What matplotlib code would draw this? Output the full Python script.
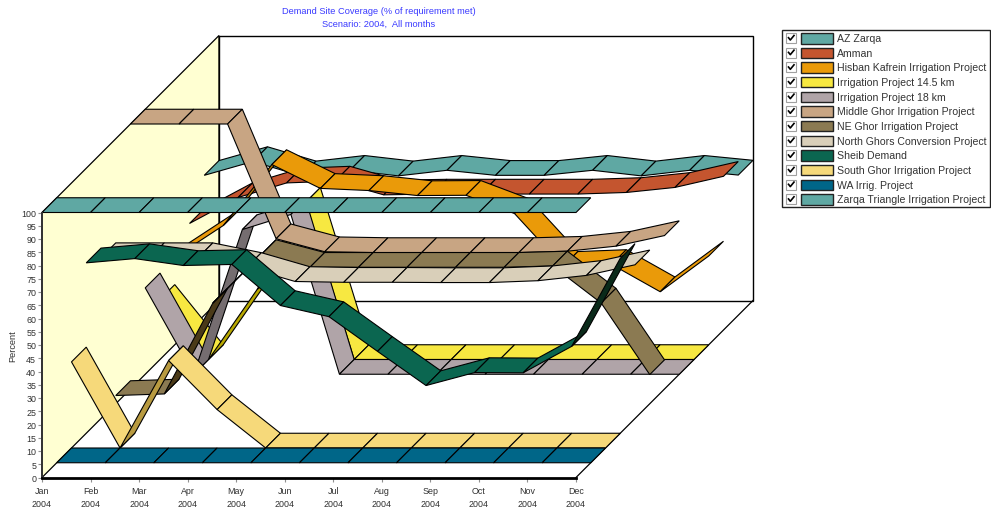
import numpy as np
import matplotlib
matplotlib.use("Agg")
import matplotlib.pyplot as plt
from matplotlib.patches import Polygon, Rectangle

plt.rcParams['font.family'] = ['Liberation Sans', 'DejaVu Sans']

months = ["Jan", "Feb", "Mar", "Apr", "May", "Jun", "Jul", "Aug", "Sep", "Oct", "Nov", "Dec"]
year = "2004"

# series as listed in the legend
names = ["AZ Zarqa", "Amman", "Hisban Kafrein Irrigation Project", "Irrigation Project 14.5 km",
         "Irrigation Project 18 km", "Middle Ghor Irrigation Project", "NE Ghor Irrigation Project",
         "North Ghors Conversion Project", "Sheib Demand", "South Ghor Irrigation Project",
         "WA Irrig. Project", "Zarqa Triangle Irrigation Project"]

az_zarqa = [52.8, 58.0, 52.6, 54.7, 52.6, 54.7, 52.8, 52.8, 54.7, 52.6, 54.7, 52.9]
amman = [40.2, 50.0, 55.5, 56.2, 51.0, 51.3, 51.3, 51.3, 51.3, 51.9, 53.8, 58.0]
hisban = [33.0, 45.0, 68.0, 59.0, 58.2, 56.3, 56.4, 49.5, 29.6, 30.3, 20.0, 33.5]
ip_14_5 = [22.7, 0, 26.4, 59.3, 0, 0, 0, 0, 0, 0, 0, 0]
ip_18 = [32.6, 0, 54.6, 60.3, 0, 0, 0, 0, 0, 0, 0, 0]
middle_ghor = [100, 100, 100, 56.7, 51.8, 51.5, 51.5, 51.5, 51.5, 52.0, 53.9, 57.9]
ne_ghor = [3.1, 3.7, 38.0, 56.3, 51.5, 51.5, 51.5, 51.5, 51.5, 52.0, 38.0, 11.0]
north_ghors = [60.7, 60.7, 60.7, 57.0, 51.7, 51.4, 51.4, 51.3, 51.3, 52.0, 54.0, 58.0]
sheib = [64.3, 65.9, 63.3, 63.7, 48.2, 44.0, 30.9, 18.0, 22.9, 22.8, 32.8, 66.0]
south_ghor = [32.5, 0, 33.0, 14.5, 0, 0, 0, 0, 0, 0, 0, 0]
wa_irrig = [0] * 12
zarqa_triangle = [100] * 12

series = [az_zarqa, amman, hisban, ip_14_5, ip_18, middle_ghor, ne_ghor,
          north_ghors, sheib, south_ghor, wa_irrig, zarqa_triangle]
colors = ["#5fa8a3", "#c4552f", "#ea9a09", "#f7e841", "#b0a4a8", "#c8a583",
          "#8b7a52", "#d9cfb9", "#0b6650", "#f6d97a", "#006688", "#5fa8a3"]
# colour of a ribbon's underside, seen where it climbs steeply
under_colors = ["#3f706d", "#833920", "#b87a06", "#b8a800", "#756d70", "#86705a",
                "#4a3a18", "#918a7c", "#0a2a1a", "#b89a40", "#00445b", "#3f706d"]

W, H = 991, 510
left, right, bottom, top = 42, 576, 478.5, 213.5
px_month = (right - left) / 11
px_pct = (bottom - top) / 100
depth_px = 14.75
dx = depth_px / px_month   # one depth slot in month units
dy = depth_px / px_pct     # one depth slot in percent units
n = len(series)

fig = plt.figure(figsize=(W / 100, H / 100), dpi=100)
ax = fig.add_axes([left / W, 1 - bottom / H, (right - left) / W, (bottom - top) / H])
ax.set_xlim(0, 11)
ax.set_ylim(0, 100)
ax.patch.set_visible(False)

# left wall, back wall and floor edge
ax.add_patch(Polygon([(0, 0), (0, 100), (n * dx, 100 + n * dy), (n * dx, n * dy)], closed=True,
                     fc="#ffffd2", ec="black", lw=0.9, clip_on=False, zorder=1))
ax.add_patch(Rectangle((n * dx, n * dy), 11, 100, fc="white", ec="black", lw=1.0,
                       clip_on=False, zorder=1))
ax.plot([11, 11 + n * dx], [0, n * dy], color="black", lw=0.9, clip_on=False, zorder=1)

# ribbons, furthest first, so nearer ones paint over them
for i, (vals, col, ucol) in enumerate(zip(series, colors, under_colors)):
    slot = n - 1 - i
    for m in range(11):
        v1, v2 = vals[m], vals[m + 1]
        rising_steep = (v2 - v1) * px_pct > px_month
        x0 = m + slot * dx
        y0 = slot * dy
        quad = [(x0, y0 + v1), (x0 + 1, y0 + v2),
                (x0 + 1 + dx, y0 + dy + v2), (x0 + dx, y0 + dy + v1)]
        ax.add_patch(Polygon(quad, closed=True, fc=ucol if rising_steep else col,
                             ec="black", lw=0.8, joinstyle="miter", clip_on=False,
                             zorder=2 + i))

for side in ("top", "right"):
    ax.spines[side].set_visible(False)
ax.spines["bottom"].set_linewidth(2.0)
ax.spines["left"].set_linewidth(1.4)
ax.spines["left"].set_color("#333333")
ax.spines["bottom"].set_zorder(30)
ax.spines["left"].set_zorder(30)

ax.set_xticks(range(12))
ax.set_xticklabels([m + "\n" + year for m in months], linespacing=1.55)
ax.set_yticks(range(0, 101, 5))
ax.tick_params(axis="both", length=3, width=0.8, color="#909090", labelsize=6.4,
               labelcolor="#303030", pad=1.2)
ax.tick_params(axis="x", pad=3)

# title and legend are laid out in pixels over the whole figure
over = fig.add_axes([0, 0, 1, 1], zorder=40)
over.set_xlim(0, W)
over.set_ylim(H, 0)
over.axis("off")

over.text(13, 346, "Percent", color="#303030", fontsize=6.6, rotation=90,
          ha="center", va="center")
over.text(379, 11, "Demand Site Coverage (% of requirement met)", color="#3a3aff",
          fontsize=6.7, ha="center", va="center")
over.text(379, 24, "Scenario: 2004,  All months", color="#3a3aff",
          fontsize=6.7, ha="center", va="center")

over.add_patch(Rectangle((782, 31), 208, 177, fc="white", ec="#222222", lw=1.0))
for i, name in enumerate(names):
    y = 39 + i * 14.66
    over.add_patch(Rectangle((786, y - 5), 10, 10, fc="white", ec="#a0a0a0", lw=0.8))
    over.plot([788.5, 790.3, 794], [y - 0.3, y + 2, y - 2.5], color="black", lw=1.2)
    over.add_patch(Rectangle((800.5, y - 5), 32, 10.5, fc=colors[i], ec="#222222", lw=1.0))
    over.text(837, y, name, color="#333333", fontsize=7.6, ha="left", va="center")

fig.savefig("out.png", dpi=100)
